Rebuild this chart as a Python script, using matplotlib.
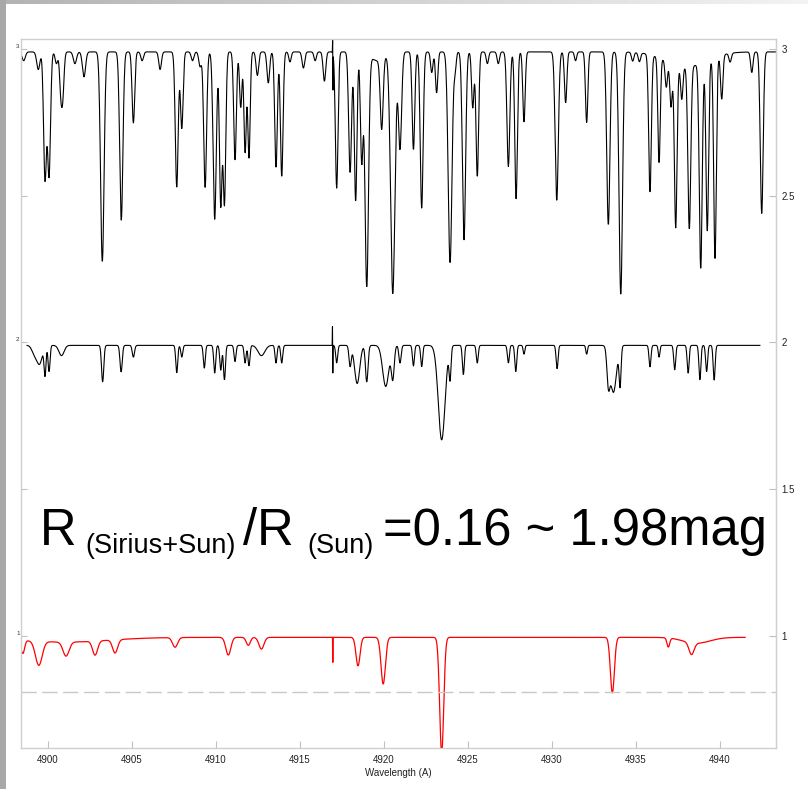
import numpy as np
import matplotlib
matplotlib.use("Agg")
import matplotlib.pyplot as plt
from matplotlib.patches import Rectangle

# ---------------------------------------------------------------------------
# Spectral data: line centres (A), line-core flux, Gaussian width (A)
# ---------------------------------------------------------------------------
# Solar spectrum (offset +2)
sun_range = (4898.40, 4943.30)
sun_cont = 2.99
sun_centers = [4898.55, 4899.42, 4899.82, 4900.06, 4900.50, 4900.75, 4900.87,
               4901.60, 4902.14, 4903.23, 4904.36, 4905.08, 4905.60, 4906.67,
               4907.66, 4907.96, 4908.60, 4909.05, 4909.35, 4909.92, 4910.28,
               4910.50, 4911.13, 4911.47, 4911.73, 4911.96, 4912.46, 4913.11,
               4913.57, 4913.91, 4914.40, 4915.20, 4915.90, 4916.45, 4917.18,
               4917.98, 4918.31, 4918.67, 4918.97, 4919.86, 4920.52, 4920.95,
               4921.75, 4922.24, 4922.84, 4923.13, 4923.93, 4924.23, 4924.76,
               4925.28, 4925.55, 4926.15, 4926.80, 4927.40, 4927.86, 4928.33,
               4930.28, 4930.81, 4931.40, 4932.06, 4933.35, 4934.09, 4934.80,
               4935.20, 4935.83, 4936.37, 4936.80, 4937.08, 4937.36, 4937.72,
               4938.17, 4938.85, 4939.24, 4939.70, 4940.10, 4940.60, 4941.89,
               4942.48]
sun_minima = [2.96, 2.93, 2.557, 2.57, 2.95, 2.88, 2.84,
              2.95, 2.905, 2.274, 2.417, 2.748, 2.96, 2.93,
              2.53, 2.73, 2.96, 2.94, 2.526, 2.42, 2.47,
              2.475, 2.62, 2.80, 2.646, 2.63, 2.91, 2.884,
              2.595, 2.564, 2.956, 2.935, 2.96, 2.89, 2.526,
              2.58, 2.48, 2.62, 2.196, 2.75, 2.169, 2.66,
              2.656, 2.458, 2.92, 2.85, 2.27, 2.93, 2.35,
              2.80, 2.564, 2.95, 2.95, 2.60, 2.49, 2.75,
              2.485, 2.816, 2.96, 2.75, 2.40, 2.162, 2.96,
              2.96, 2.52, 2.63, 2.90, 2.84, 2.434, 2.877,
              2.434, 2.288, 2.41, 2.305, 2.84, 2.96, 2.92,
              2.44]
sun_widths = [0.08, 0.08, 0.07, 0.07, 0.06, 0.05, 0.06,
              0.08, 0.08, 0.09, 0.08, 0.06, 0.06, 0.06,
              0.07, 0.06, 0.06, 0.06, 0.07, 0.08, 0.06,
              0.06, 0.06, 0.05, 0.05, 0.05, 0.06, 0.06,
              0.06, 0.06, 0.05, 0.06, 0.05, 0.06, 0.06,
              0.07, 0.06, 0.06, 0.09, 0.07, 0.12, 0.08,
              0.06, 0.07, 0.05, 0.05, 0.10, 0.04, 0.08,
              0.05, 0.06, 0.05, 0.05, 0.07, 0.06, 0.05,
              0.08, 0.05, 0.04, 0.05, 0.08, 0.09, 0.05,
              0.05, 0.06, 0.05, 0.05, 0.05, 0.06, 0.05,
              0.07, 0.07, 0.06, 0.06, 0.05, 0.05, 0.05,
              0.07]
sun_broad = [(4938.0, 0.05, 1.2), (4919.6, 0.03, 0.4)]
sun_spike = (4916.94, 3.035, 2.86)

# Combined Sirius + Sun spectrum (offset +1)
mix_range = (4898.75, 4942.38)
mix_cont = 1.99
mix_centers = [4899.20, 4899.50, 4899.82, 4900.06, 4900.80, 4903.25, 4904.35,
               4905.08, 4907.66, 4907.96, 4909.30, 4909.92, 4910.28, 4910.50,
               4911.13, 4911.73, 4911.96, 4912.70, 4913.57, 4913.91, 4917.18,
               4917.98, 4918.40, 4918.97, 4920.10, 4920.52, 4920.95, 4921.75,
               4922.24, 4923.43, 4923.93, 4924.72, 4925.55, 4927.40, 4927.84,
               4928.33, 4930.30, 4932.06, 4933.35, 4933.65, 4934.05, 4935.83,
               4936.37, 4937.30, 4938.10, 4938.80, 4939.20, 4939.65]
mix_minima = [1.96, 1.93, 1.89, 1.90, 1.955, 1.866, 1.90,
              1.95, 1.896, 1.95, 1.912, 1.895, 1.905, 1.872,
              1.935, 1.93, 1.92, 1.955, 1.93, 1.93, 1.93,
              1.92, 1.86, 1.866, 1.85, 1.88, 1.93, 1.92,
              1.917, 1.668, 1.883, 1.89, 1.93, 1.93, 1.90,
              1.96, 1.91, 1.96, 1.88, 1.83, 1.86, 1.917,
              1.95, 1.906, 1.895, 1.872, 1.90, 1.872]
mix_widths = [0.15, 0.15, 0.05, 0.05, 0.15, 0.06, 0.06,
              0.06, 0.05, 0.05, 0.05, 0.05, 0.05, 0.05,
              0.05, 0.05, 0.05, 0.20, 0.05, 0.05, 0.05,
              0.06, 0.15, 0.07, 0.18, 0.08, 0.06, 0.05,
              0.05, 0.20, 0.05, 0.05, 0.05, 0.05, 0.05,
              0.04, 0.05, 0.04, 0.08, 0.18, 0.05, 0.05,
              0.04, 0.05, 0.05, 0.05, 0.05, 0.05]
mix_broad = []
mix_spike = (4916.94, 2.054, 1.896)

# Ratio spectrum R(Sirius+Sun)/R(Sun)
ratio_range = (4898.45, 4941.50)
ratio_cont = 0.995
ratio_centers = [4898.50, 4899.45, 4901.07, 4902.80, 4903.99, 4907.56, 4910.73,
                 4911.92, 4912.70, 4918.45, 4919.95, 4923.43, 4933.59, 4936.92,
                 4938.30]
ratio_minima = [0.95, 0.913, 0.947, 0.947, 0.95, 0.962, 0.935,
                0.968, 0.955, 0.898, 0.836, 0.60, 0.806, 0.964,
                0.955]
ratio_widths = [0.10, 0.20, 0.18, 0.15, 0.15, 0.15, 0.15,
                0.12, 0.15, 0.12, 0.13, 0.12, 0.12, 0.08,
                0.15]
ratio_broad = [(4901.0, 0.016, 2.6), (4938.6, 0.02, 0.8)]
ratio_spike = (4916.94, 0.995, 0.91)

ref_level = 0.809

x_ticks = [4900, 4905, 4910, 4915, 4920, 4925, 4930, 4935, 4940]
y_ticks = [1, 1.5, 2, 2.5, 3]
y_labels_right = ["1", "1.5", "2", "2.5", "3"]
y_labels_left = ["1", "", "2", "", "3"]


def build(rng, cont, centers, minima, widths, broad, spike, inst=0.0,
          step=0.02):
    """Continuum minus Gaussian absorption lines, convolved with an
    instrumental Gaussian of width `inst` (added in quadrature)."""
    lam = np.arange(rng[0], rng[1], step)
    flux = np.full_like(lam, cont)
    for c, m, w in zip(centers, minima, widths):
        s = np.hypot(w, inst)
        flux -= (cont - m) * np.exp(-0.5 * ((lam - c) / s) ** 2)
    for c, d, w in broad:
        flux -= d * np.exp(-0.5 * ((lam - c) / w) ** 2)
    i = int(np.argmin(np.abs(lam - spike[0])))
    flux[i] = spike[1]
    flux[i + 1] = spike[2]
    return lam, flux


W, H = 808, 789
fig = plt.figure(figsize=(W / 100, H / 100), dpi=100)
fig.patch.set_facecolor("white")

# window frame shading
fig.patches.append(Rectangle((0, 0), 6 / W, 1, transform=fig.transFigure,
                             facecolor="#a8a8a8", edgecolor="none", zorder=0))
band = fig.add_axes([0, 1 - 4 / H, 1, 4 / H])
band.imshow(np.linspace(0.70, 0.95, 256)[None, :], cmap="gray", vmin=0, vmax=1,
            aspect="auto", extent=(0, 1, 0, 1))
band.axis("off")

ax = fig.add_axes([21 / W, 1 - 748 / H, (776 - 21) / W, (748 - 39) / H])

lam, f = build(sun_range, sun_cont, sun_centers, sun_minima, sun_widths,
               sun_broad, sun_spike, inst=0.05)
ax.plot(lam, f, color="black", lw=0.8)
lam, f = build(mix_range, mix_cont, mix_centers, mix_minima, mix_widths,
               mix_broad, mix_spike, inst=0.03)
ax.plot(lam, f, color="black", lw=0.8)
lam, f = build(ratio_range, ratio_cont, ratio_centers, ratio_minima,
               ratio_widths, ratio_broad, ratio_spike)
ax.plot(lam, f, color="#ff0000", lw=0.9)

ax.axhline(ref_level, color="#c8c8c8", lw=1.0, dashes=(11, 4))

ax.set_xlim(4898.39, 4943.33)
ax.set_ylim(0.618, 3.034)

for s in ax.spines.values():
    s.set_color("#cfcfcf")
    s.set_linewidth(1.0)

ax.set_xticks(x_ticks)
ax.set_xticklabels([str(v) for v in x_ticks], family="Liberation Sans")
ax.tick_params(axis="x", direction="in", length=5, color="#c0c0c0",
               labelsize=7, pad=5, labelcolor="#222222")
ax.set_xlabel("Wavelength (A)", family="Liberation Sans", fontsize=7,
              labelpad=2, color="#222222")

ax.set_yticks(y_ticks)
ax.set_yticklabels(y_labels_left, family="Liberation Sans")
ax.tick_params(axis="y", direction="in", length=4, color="#c0c0c0",
               labelsize=4.5, pad=1, labelcolor="#333333")
for t in ax.get_yticklabels():
    t.set_verticalalignment("bottom")

sec = ax.secondary_yaxis("right")
sec.set_yticks(y_ticks)
sec.set_yticklabels(y_labels_right, family="Liberation Sans")
sec.tick_params(direction="in", length=5, color="#c0c0c0", labelsize=7,
                pad=4, labelcolor="#222222")
sec.spines["right"].set_color("#cfcfcf")

# ratio annotation
big, small = 36.5, 19.5
base_big = 1 - 545 / H
base_sub = 1 - 553 / H
kw = dict(family="Liberation Sans", va="baseline", ha="left", color="black")
fig.text(40 / W, base_big, "R", fontsize=big, **kw)
fig.text(85 / W, base_sub, "(Sirius+Sun)", fontsize=small, **kw)
fig.text(243 / W, base_big, "/R", fontsize=big, **kw)
fig.text(307 / W, base_sub, "(Sun)", fontsize=small, **kw)
fig.text(383 / W, base_big, "=0.16 ~ 1.98mag", fontsize=big, **kw)

fig.savefig("out.png", dpi=100, facecolor="white")
